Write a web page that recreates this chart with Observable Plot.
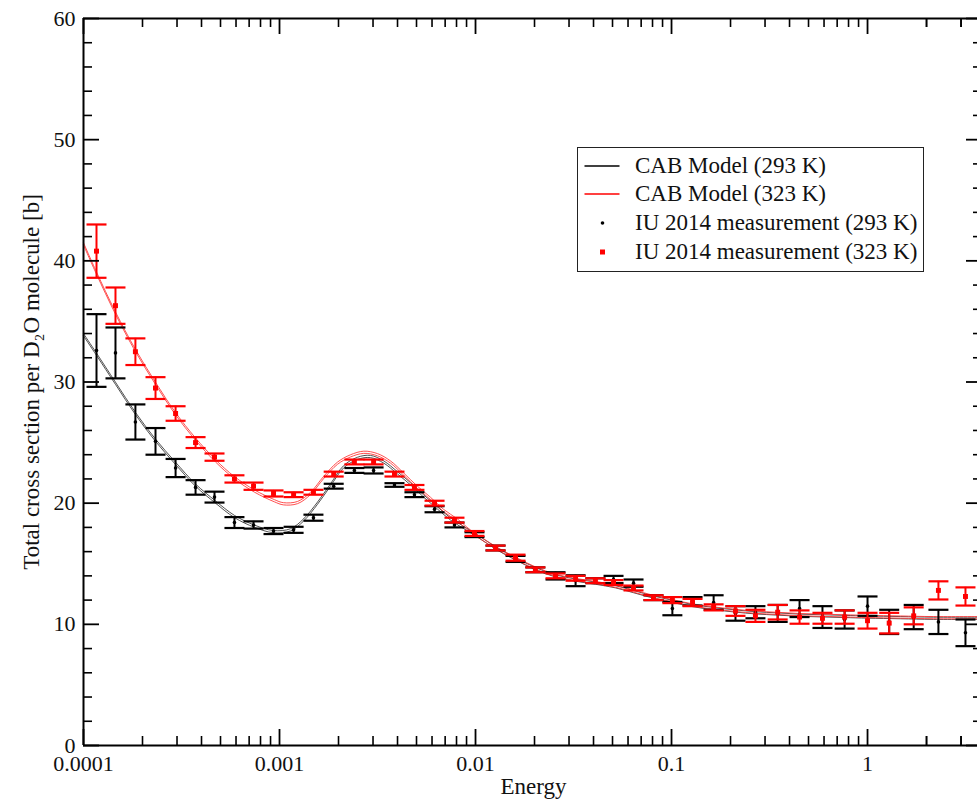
<!DOCTYPE html>
<html>
<head>
<meta charset="utf-8">
<script src="https://cdn.jsdelivr.net/npm/d3@7"></script>
<script src="https://cdn.jsdelivr.net/npm/@observablehq/plot@0.6"></script>
<style>
  html, body { margin: 0; padding: 0; background: #fff; }
  #wrap { position: relative; width: 977px; height: 799px; overflow: hidden; }
  .legend { position: absolute; left: 577px; top: 147px; width: 345px; height: 123px;
    border: 1.5px solid #222; background: #fff; font-family: "Liberation Serif", "Times New Roman", serif;
    font-size: 23px; color: #111; }
  .row { position: absolute; left: 0; width: 100%; height: 28px; line-height: 28px; }
  .row svg { position: absolute; left: 0; top: 0; }
  .row span { position: absolute; left: 57px; top: 0; white-space: nowrap; }
</style>
</head>
<body>
<div id="wrap"></div>
<script>
// ---- measured data (energy, cross section, error) ----
const energy = [1.165e-4, 1.456e-4, 1.84e-4, 2.33e-4, 2.95e-4, 3.73e-4, 4.66e-4, 5.89e-4, 7.37e-4, 9.32e-4,
  1.18e-3, 1.49e-3, 1.89e-3, 2.41e-3, 3.02e-3, 3.86e-3, 4.88e-3, 6.18e-3, 7.81e-3, 9.88e-3,
  1.265e-2, 1.60e-2, 2.02e-2, 2.56e-2, 3.24e-2, 4.09e-2, 5.06e-2, 6.40e-2, 8.09e-2, 0.101,
  0.128, 0.164, 0.212, 0.268, 0.348, 0.450, 0.589, 0.764, 1.0, 1.29, 1.72, 2.30, 3.16];
const sigma293 = [32.6, 32.4, 26.7, 25.1, 22.9, 21.3, 20.5, 18.4, 18.2, 17.7,
  17.8, 18.8, 21.4, 22.7, 22.7, 21.5, 20.7, 19.5, 18.2, 17.4,
  16.3, 15.4, 14.5, 14.0, 13.6, 13.6, 13.7, 13.4, 12.2, 11.3,
  11.9, 11.8, 10.9, 11.0, 10.9, 11.3, 10.6, 10.4, 11.5, 10.2, 10.6, 10.2, 9.3];
const err293 = [3.0, 2.1, 1.45, 1.1, 0.75, 0.6, 0.45, 0.45, 0.3, 0.25,
  0.25, 0.25, 0.2, 0.2, 0.25, 0.15, 0.2, 0.25, 0.2, 0.2,
  0.2, 0.25, 0.2, 0.3, 0.45, 0.2, 0.3, 0.3, 0.2, 0.55,
  0.35, 0.6, 0.6, 0.5, 0.7, 0.7, 0.9, 0.75, 0.8, 1.0, 1.0, 1.0, 1.1];
const sigma323 = [40.8, 36.3, 32.5, 29.5, 27.4, 25.0, 23.8, 22.0, 21.4, 20.8,
  20.7, 20.9, 22.4, 23.4, 23.4, 22.4, 21.3, 20.0, 18.6, 17.5,
  16.3, 15.5, 14.5, 14.0, 13.8, 13.6, 13.45, 13.0, 12.2, 12.0,
  11.8, 11.4, 11.1, 10.7, 11.0, 10.6, 10.5, 10.6, 10.3, 10.1, 10.7, 12.8, 12.3];
const err323 = [2.2, 1.5, 1.1, 0.9, 0.6, 0.45, 0.3, 0.3, 0.3, 0.25,
  0.2, 0.2, 0.2, 0.2, 0.2, 0.2, 0.2, 0.2, 0.2, 0.2,
  0.2, 0.25, 0.2, 0.2, 0.2, 0.2, 0.2, 0.2, 0.2, 0.25,
  0.3, 0.25, 0.4, 0.5, 0.6, 0.55, 0.45, 0.55, 0.65, 0.85, 0.7, 0.75, 0.75];

// ---- CAB model curves ----
const modelE293 = [1e-4, 1.164e-4, 1.455e-4, 1.841e-4, 2.328e-4, 2.944e-4, 3.724e-4, 4.71e-4, 5.89e-4, 7.45e-4,
  9.31e-4, 1.138e-3, 1.324e-3, 1.563e-3, 1.82e-3, 2.123e-3, 2.5e-3, 2.91e-3, 3.4e-3, 4.0e-3,
  4.66e-3, 5.43e-3, 6.4e-3, 7.45e-3, 8.69e-3, 1.023e-2, 1.265e-2, 1.6e-2, 2.023e-2, 2.56e-2,
  3.24e-2, 4.09e-2, 5.18e-2, 6.4e-2, 8.09e-2, 0.101, 0.128, 0.164, 0.212, 0.269,
  0.348, 0.455, 0.589, 0.764, 1.0, 1.47, 2.17, 3.86];
const model293 = [33.9, 32.3, 29.9, 27.4, 25.2, 23.3, 21.5, 20.1, 18.9, 18.1,
  17.65, 17.8, 18.6, 20.0, 21.5, 23.0, 23.7, 23.85, 23.4, 22.5,
  21.6, 20.6, 19.6, 18.7, 18.0, 17.3, 16.3, 15.4, 14.6, 14.0,
  13.65, 13.4, 13.1, 12.7, 12.25, 11.9, 11.55, 11.3, 11.1, 10.95,
  10.85, 10.75, 10.7, 10.65, 10.6, 10.55, 10.5, 10.5];
const modelE323 = [1e-4, 1.164e-4, 1.455e-4, 1.841e-4, 2.328e-4, 2.944e-4, 3.724e-4, 4.71e-4, 5.89e-4, 7.45e-4,
  9.42e-4, 1.047e-3, 1.236e-3, 1.439e-3, 1.676e-3, 1.977e-3, 2.30e-3, 2.69e-3, 3.16e-3, 3.68e-3,
  4.30e-3, 5.06e-3, 5.89e-3, 6.87e-3, 8.09e-3, 9.42e-3, 1.265e-2, 1.6e-2, 2.023e-2, 2.56e-2,
  3.24e-2, 4.09e-2, 5.18e-2, 6.4e-2, 8.09e-2, 0.101, 0.128, 0.164, 0.212, 0.269,
  0.348, 0.455, 0.589, 0.764, 1.0, 1.47, 2.17, 3.86];
const model323 = [41.4, 39.0, 35.7, 32.6, 29.9, 27.4, 25.3, 23.5, 22.1, 21.0,
  20.2, 19.95, 20.05, 20.8, 22.1, 23.3, 23.9, 24.2, 24.0, 23.4,
  22.4, 21.3, 20.4, 19.4, 18.6, 17.7, 16.35, 15.45, 14.65, 14.05,
  13.7, 13.45, 13.15, 12.75, 12.3, 11.95, 11.6, 11.35, 11.15, 11.0,
  10.9, 10.8, 10.75, 10.7, 10.65, 10.6, 10.55, 10.55];

// ---- axes / text ----
const xDomain = [1e-4, 3.86];
const yDomain = [0, 60];
const xTicks = [0.0001, 0.001, 0.01, 0.1, 1];
const xTickLabels = ["0.0001", "0.001", "0.01", "0.1", "1"];
const yTicks = [0, 10, 20, 30, 40, 50, 60];
const yMinorTicks = [2, 4, 6, 8, 12, 14, 16, 18, 22, 24, 26, 28, 32, 34, 36, 38, 42, 44, 46, 48, 52, 54, 56, 58];
const xTitle = "Energy";
const yTitle = "Total cross section per D\u2082O molecule [b]";
const legendLabels = ["CAB Model (293 K)", "CAB Model (323 K)", "IU 2014 measurement (293 K)", "IU 2014 measurement (323 K)"];
const colors = ["#000000", "#ff0000"];

const xMinorTicks = d3.range(-4, 1).flatMap(e => d3.range(2, 10).map(m => +(m * Math.pow(10, e)).toPrecision(3)))
  .concat([2, 3]);

const d293 = energy.map((E, i) => ({E, y: sigma293[i], e: err293[i]}));
const d323 = energy.map((E, i) => ({E, y: sigma323[i], e: err323[i]}));
const m293 = modelE293.map((E, i) => ({E, y: model293[i]}));
const m323 = modelE323.map((E, i) => ({E, y: model323[i]}));

const L = 83, R = 982, T = 18, B = 745;
const pw = R - L, ph = B - T;
const majorLen = 16, minorLen = 9;

const cap = {draw(ctx) { ctx.moveTo(-10, 0); ctx.lineTo(10, 0); }};

function errMarks(data, color, centerSymbol, centerR) {
  return [
    Plot.ruleX(data, {x: "E", y1: d => d.y - d.e, y2: d => d.y + d.e, stroke: color, strokeWidth: 2}),
    Plot.dot(data, {x: "E", y: d => d.y + d.e, symbol: cap, stroke: color, fill: "none", strokeWidth: 2.2}),
    Plot.dot(data, {x: "E", y: d => d.y - d.e, symbol: cap, stroke: color, fill: "none", strokeWidth: 2.2}),
    Plot.dot(data, {x: "E", y: "y", symbol: centerSymbol, r: centerR, fill: color, stroke: null})
  ];
}

// y1 = top (60), y2 = bottom (0): insetTop shortens from top, insetBottom from bottom
function tickRules(vals, len, w) {
  return [
    Plot.ruleX(vals, {x: d => d, y1: yDomain[1], y2: yDomain[0], insetTop: ph - len, stroke: "#000", strokeWidth: w}),
    Plot.ruleX(vals, {x: d => d, y1: yDomain[1], y2: yDomain[0], insetBottom: ph - len, stroke: "#000", strokeWidth: w})
  ];
}
function tickRulesY(vals, len, w) {
  return [
    Plot.ruleY(vals, {y: d => d, x1: xDomain[0], x2: xDomain[1], insetRight: pw - len, stroke: "#000", strokeWidth: w}),
    Plot.ruleY(vals, {y: d => d, x1: xDomain[0], x2: xDomain[1], insetLeft: pw - len, stroke: "#000", strokeWidth: w})
  ];
}

const chart = Plot.plot({
  width: 977,
  height: 799,
  marginLeft: L, marginRight: 0, marginTop: T, marginBottom: 799 - B,
  x: {type: "log", domain: xDomain, range: [L, R]},
  y: {domain: yDomain, range: [B, T]},
  style: {fontFamily: "'Liberation Serif', 'Times New Roman', serif", fontSize: "22px", color: "#111", background: "#fff"},
  marks: [
    // model curves (double thin lines)
    Plot.line(m293, {x: "E", y: "y", stroke: "#333", strokeWidth: 1, dy: -1.1, curve: "catmull-rom", strokeOpacity: 0.85}),
    Plot.line(m293, {x: "E", y: "y", stroke: "#333", strokeWidth: 1, dy: 1.1, curve: "catmull-rom", strokeOpacity: 0.85}),
    Plot.line(m323, {x: "E", y: "y", stroke: "#ff3030", strokeWidth: 1, dy: -1.1, curve: "catmull-rom", strokeOpacity: 0.85}),
    Plot.line(m323, {x: "E", y: "y", stroke: "#ff3030", strokeWidth: 1, dy: 1.1, curve: "catmull-rom", strokeOpacity: 0.85}),
    // measurements
    ...errMarks(d293, colors[0], "circle", 1.8),
    ...errMarks(d323, colors[1], "square", 2.8),
    // inward ticks
    ...tickRules(xTicks, majorLen, 1.8),
    ...tickRules(xMinorTicks, minorLen, 1.6),
    ...tickRulesY(yTicks, majorLen, 1.8),
    ...tickRulesY(yMinorTicks, minorLen, 1.6),
    // frame
    Plot.ruleX(xDomain, {x: d => d, y1: yDomain[0], y2: yDomain[1], stroke: "#000", strokeWidth: 2}),
    Plot.ruleY(yDomain, {y: d => d, x1: xDomain[0], x2: xDomain[1], stroke: "#000", strokeWidth: 2}),
    // axes labels
    Plot.axisX(xTicks, {tickSize: 0, tickPadding: 10, fontSize: 22, label: null,
      tickFormat: d => xTickLabels[xTicks.indexOf(d)]}),
    Plot.axisY(yTicks, {tickSize: 0, tickPadding: 8, fontSize: 22, label: null}),
    Plot.text([xTitle], {text: d => d, frameAnchor: "bottom", dx: 3, dy: 48, lineAnchor: "bottom", fontSize: 23, fill: "#111"}),
    Plot.text([yTitle], {text: d => d, frameAnchor: "left", textAnchor: "middle", rotate: -90, dx: -45, lineAnchor: "bottom", fontSize: 23, fill: "#111"})
  ]
});

const wrap = document.getElementById("wrap");
wrap.appendChild(chart);

// legend
const legend = document.createElement("div");
legend.className = "legend";
const rowCenters = [17.5, 46.2, 74.9, 103.6];
legendLabels.forEach((lab, i) => {
  const row = document.createElement("div");
  row.className = "row";
  row.style.top = (rowCenters[i] - 14) + "px";
  const c = colors[i % 2];
  let sym;
  if (i < 2) sym = `<line x1="6.5" x2="41.5" y1="14" y2="14" stroke="${c}" stroke-width="1.6"/>`;
  else if (i === 2) sym = `<circle cx="24.5" cy="14" r="1.8" fill="${c}"/>`;
  else sym = `<rect x="22" y="11.5" width="5" height="5" fill="${c}"/>`;
  row.innerHTML = `<svg width="50" height="28">${sym}</svg><span></span>`;
  row.querySelector("span").textContent = lab;
  legend.appendChild(row);
});
wrap.appendChild(legend);
</script>
</body>
</html>
